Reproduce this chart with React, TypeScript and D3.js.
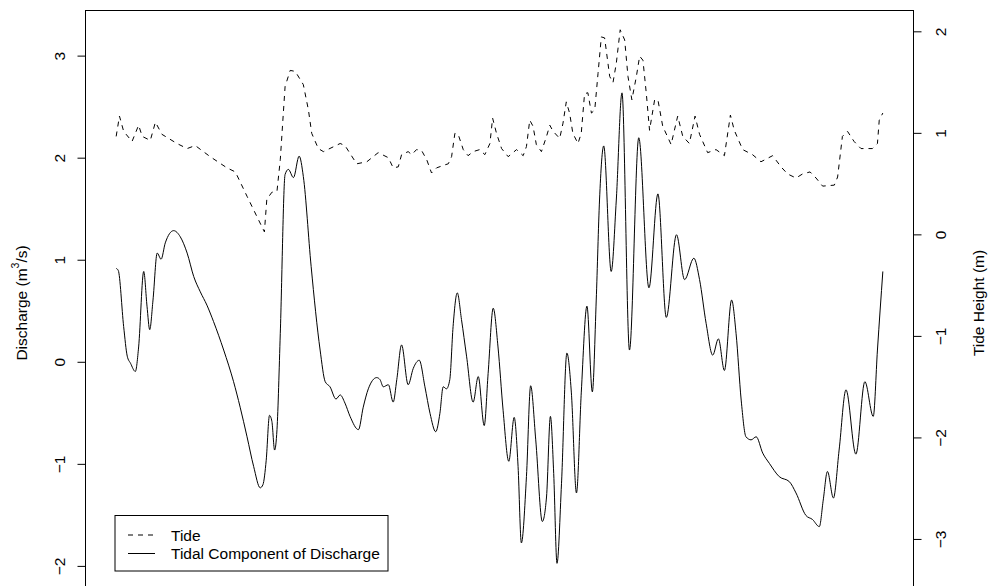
import React from 'react';
import * as d3 from 'd3';

// time in hours since start of record
const tideHours = [0, 1.1, 2.5, 5.3, 7.5, 8.7, 11.4, 13.1, 15.3, 20.3, 23.7, 26.4, 31.4, 37, 39.8, 43.7, 47, 49.5, 50.3, 52, 53.7, 54.8, 56.4, 58.1, 59.8, 62.5, 64.2, 65.3, 67.5, 69.2, 74.8, 76.4, 80.3, 83.7, 87.5, 90.9, 92.5, 94.2, 95.3, 97.5, 98.7, 100.3, 102, 103.7, 105.3, 107, 109.8, 110.9, 112, 113.1, 114.2, 115.9, 117.5, 119.2, 121.4, 123.1, 124.8, 125.7, 127, 128.7, 130.9, 133.7, 135.9, 137, 138.1, 139.2, 140.3, 142, 143.7, 144.8, 145.9, 148.1, 149.2, 150.3, 151.4, 152.5, 154.2, 155.3, 156.4, 157.5, 158.7, 159.8, 160.9, 162, 163.1, 164.8, 165.9, 167, 168.3, 169.8, 170.9, 172.2, 173.7, 174.8, 175.9, 177, 178.1, 179.8, 180.9, 182.5, 185.3, 187.5, 189.2, 191.4, 193.3, 194.8, 197.5, 200.3, 203.1, 205.1, 206.4, 209.2, 212.5, 215.3, 219.2, 222, 224.2, 227, 229.2, 231.7, 233.7, 235.9, 239.8, 240.9, 242.5, 244.2, 246.4, 248.7, 252.5, 254.2, 254.8, 256];
const tideHeight = [0.97, 1.17, 1.02, 0.92, 1.08, 0.97, 0.93, 1.11, 0.99, 0.9, 0.85, 0.88, 0.77, 0.66, 0.62, 0.38, 0.18, 0.03, 0.35, 0.42, 0.43, 0.74, 1.46, 1.62, 1.61, 1.48, 1.23, 1.0, 0.85, 0.82, 0.9, 0.88, 0.7, 0.72, 0.81, 0.76, 0.66, 0.67, 0.79, 0.82, 0.79, 0.84, 0.83, 0.74, 0.61, 0.66, 0.69, 0.7, 0.77, 1.0, 0.99, 0.84, 0.78, 0.82, 0.84, 0.79, 0.9, 1.15, 1.0, 0.85, 0.77, 0.84, 0.78, 0.87, 1.13, 1.07, 0.89, 0.82, 0.97, 1.08, 1.02, 0.95, 1.1, 1.31, 1.2, 1.0, 0.9, 1.0, 1.39, 1.4, 1.2, 1.23, 1.59, 1.95, 1.94, 1.56, 1.5, 1.69, 2.02, 1.92, 1.56, 1.33, 1.56, 1.76, 1.72, 1.4, 1.03, 1.33, 1.33, 1.07, 0.89, 1.17, 0.97, 0.9, 1.17, 0.99, 0.81, 0.84, 0.78, 1.18, 1.03, 0.84, 0.79, 0.72, 0.78, 0.67, 0.6, 0.56, 0.6, 0.62, 0.56, 0.48, 0.49, 0.57, 0.97, 1.02, 0.92, 0.85, 0.85, 0.9, 1.13, 1.2];

const dischargeHours = [0, 0.7, 2.5, 3.7, 4.8, 6.4, 7.5, 9.2, 10.3, 11.2, 12.3, 13.7, 15, 16.4, 19.2, 21.4, 23.7, 25.9, 28.1, 30.3, 32.5, 35.9, 39.2, 41.4, 43.7, 45.9, 48.1, 49, 50.1, 51.2, 52, 52.9, 53.7, 54.8, 56.4, 57.5, 59.2, 61.1, 62.5, 65.1, 68.1, 69.8, 71.4, 73.4, 74.8, 76.4, 78.1, 80.9, 82.5, 84.2, 87, 88.1, 89.2, 90.9, 92.5, 93.7, 95.3, 97.5, 99.2, 101.2, 103.1, 104.8, 106.7, 108.1, 109.2, 110.3, 111.4, 112.5, 113.9, 115.3, 117, 119.2, 120.9, 122.9, 124.2, 125.9, 127.5, 129.2, 131.1, 132.9, 134.2, 135.3, 137, 138.4, 140.1, 142.3, 143.7, 145, 146.1, 147.2, 148.7, 150.5, 152, 153.7, 155.3, 157.2, 159, 160.3, 161.4, 162.8, 165.3, 167, 168.9, 171.4, 174.5, 177.9, 180.9, 183.7, 187.1, 189.8, 192.9, 194.8, 197, 199.2, 201.1, 203.1, 205.5, 207, 208.7, 210.3, 212, 213.7, 215.9, 218.1, 221.4, 224.8, 227, 230.3, 232.5, 234.8, 236.1, 237.5, 239.5, 241.4, 243.7, 247, 250, 252.8, 254.2, 256];
const discharge = [0.92, 0.9, 0.35, 0.06, -0.01, -0.09, 0.15, 0.89, 0.55, 0.32, 0.61, 1.07, 1.01, 1.17, 1.29, 1.23, 1.07, 0.84, 0.69, 0.56, 0.4, 0.12, -0.19, -0.44, -0.73, -1.02, -1.23, -1.2, -0.96, -0.52, -0.58, -0.86, -0.66, 0.28, 1.84, 1.89, 1.81, 2.02, 1.82, 0.94, 0.12, -0.19, -0.24, -0.36, -0.32, -0.4, -0.53, -0.66, -0.44, -0.26, -0.15, -0.17, -0.24, -0.22, -0.39, -0.17, 0.17, -0.22, -0.06, 0.02, -0.24, -0.5, -0.68, -0.5, -0.24, -0.26, -0.17, 0.35, 0.68, 0.42, 0.06, -0.39, -0.14, -0.62, -0.11, 0.53, 0.15, -0.47, -0.97, -0.54, -1.02, -1.77, -1.12, -0.23, -0.76, -1.56, -1.32, -0.53, -1.09, -1.97, -1.19, 0.09, -0.3, -1.28, -0.3, 0.55, -0.29, 0.61, 1.59, 2.12, 0.89, 1.59, 2.64, 0.12, 2.2, 0.73, 1.65, 0.44, 1.25, 0.81, 1.02, 0.81, 0.38, 0.07, 0.23, -0.08, 0.61, 0.28, -0.37, -0.73, -0.76, -0.73, -0.89, -0.99, -1.12, -1.17, -1.28, -1.5, -1.54, -1.61, -1.35, -1.07, -1.33, -0.86, -0.27, -0.9, -0.19, -0.53, 0.12, 0.89];

const dischargeTicks = [-2, -1, 0, 1, 2, 3];
const tideTicks = [-3, -2, -1, 0, 1, 2];
const legendLabels = ['Tide', 'Tidal Component of Discharge'];

export default function App() {
  const W = 990, H = 586;
  const left = 85.5, right = 913.5, top = 10.5, bottom = 596;
  const font = '"Liberation Sans", Arial, Helvetica, sans-serif';
  const fs = 15.5;

  const x = d3.scaleLinear().domain([-10.24, 266.24]).range([left, right]);
  const yQ = d3.scaleLinear().domain([-2.29, 3.447]).range([bottom, top]);
  const yT = d3.scaleLinear().domain([-3.557, 2.21]).range([bottom, top]);

  const tidePath = d3.line<number>()
    .x((_, i) => x(tideHours[i]))
    .y((d) => yT(d))
    .curve(d3.curveLinear)(tideHeight) || '';

  const qPath = d3.line<number>()
    .x((_, i) => x(dischargeHours[i]))
    .y((d) => yQ(d))
    .curve(d3.curveMonotoneX)(discharge) || '';

  const dash = '5,5';
  const lx = 115, ly = 515.5, lw = 273, lh = 55.5;
  const rowY = [535, 553.5];

  return (
    <svg width={W} height={H} style={{ position: 'absolute', left: 0, top: 0, background: '#fff' }}
      fontFamily={font} fontSize={fs}>
      <rect x={0} y={0} width={W} height={H} fill="#fff" />
      <defs>
        <clipPath id="plotClip">
          <rect x={left} y={top} width={right - left} height={bottom - top} />
        </clipPath>
      </defs>
      <g clipPath="url(#plotClip)" fill="none" stroke="#000" strokeWidth={1}>
        <path d={tidePath} strokeDasharray={dash} />
        <path d={qPath} />
      </g>
      <rect x={left} y={top} width={right - left} height={bottom - top} fill="none" stroke="#000" strokeWidth={1} />

      {/* left axis */}
      <g>
        {dischargeTicks.map((t) => (
          <g key={'l' + t}>
            <line x1={left} x2={left - 8} y1={yQ(t)} y2={yQ(t)} stroke="#000" />
            <text transform={`translate(${59},${yQ(t)}) rotate(-90)`} textAnchor="middle" dominantBaseline="central">
              {t < 0 ? '\u2212' + Math.abs(t) : String(t)}
            </text>
          </g>
        ))}
        <text transform={`translate(${21},${303}) rotate(-90)`} textAnchor="middle" dominantBaseline="central">
          Discharge (m<tspan dy={-6} fontSize={10.5}>3</tspan><tspan dy={6}>/s)</tspan>
        </text>
      </g>

      {/* right axis */}
      <g>
        {tideTicks.map((t) => (
          <g key={'r' + t}>
            <line x1={right} x2={right + 8} y1={yT(t)} y2={yT(t)} stroke="#000" />
            <text transform={`translate(${940},${yT(t)}) rotate(-90)`} textAnchor="middle" dominantBaseline="central">
              {t < 0 ? '\u2212' + Math.abs(t) : String(t)}
            </text>
          </g>
        ))}
        <text transform={`translate(${978},${303}) rotate(-90)`} textAnchor="middle" dominantBaseline="central">
          Tide Height (m)
        </text>
      </g>

      {/* legend */}
      <g>
        <rect x={lx} y={ly} width={lw} height={lh} fill="#fff" stroke="#000" />
        <line x1={128} x2={155} y1={rowY[0]} y2={rowY[0]} stroke="#000" strokeDasharray={dash} />
        <line x1={128} x2={155} y1={rowY[1]} y2={rowY[1]} stroke="#000" />
        {legendLabels.map((l, i) => (
          <text key={l} x={171} y={rowY[i]} dominantBaseline="central">{l}</text>
        ))}
      </g>
    </svg>
  );
}
